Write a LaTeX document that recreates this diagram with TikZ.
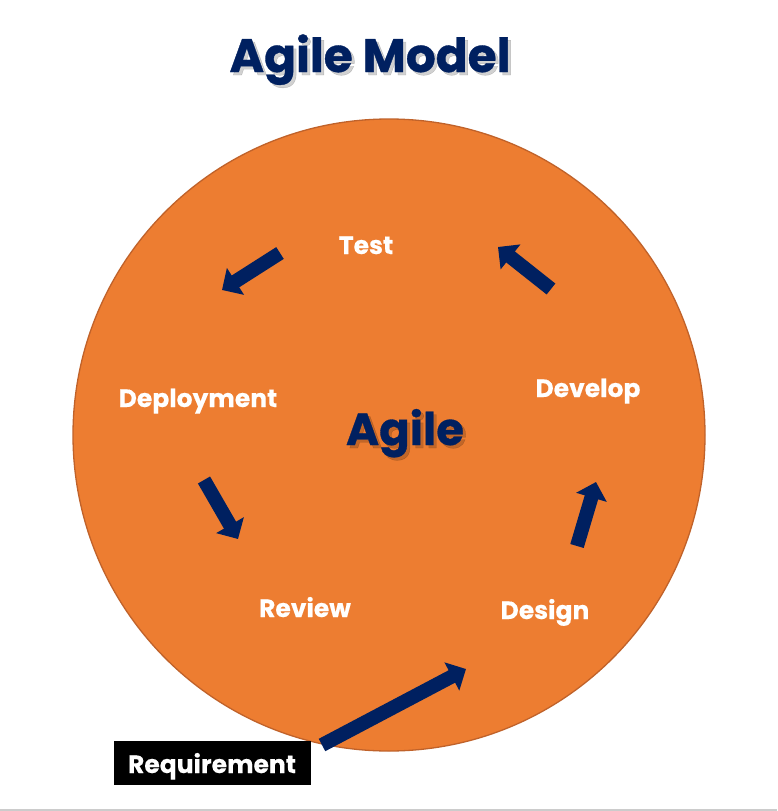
\documentclass[tikz,border=0pt]{standalone}
\usepackage{fontspec}
\setmainfont{Poppins}
\usetikzlibrary{arrows.meta}
\definecolor{navy}{HTML}{002060}
\definecolor{agorange}{HTML}{ED7D31}
\definecolor{agborder}{HTML}{C0622A}
\newcommand{\heavyfont}[1]{\bfseries\addfontfeature{FakeBold=0.7}\fontsize{#1}{#1}\selectfont}
\begin{document}
\begin{tikzpicture}[x=1pt,y=-1pt,
  lbl/.style={anchor=base,text=white,font=\bfseries\addfontfeature{FakeBold=0.4}\fontsize{25}{25}\selectfont,inner sep=0pt},
  bigtxt/.style={anchor=base,text=navy,inner sep=0pt},
  shadowtxt/.style={anchor=base,text=black,opacity=0.18,inner sep=0pt},
  blockarrow/.style={draw=navy,line width=14pt,-{Triangle[width=31pt,length=16pt]}}]
\useasboundingbox (0,0) rectangle (777,811);
\fill[white] (0,0) rectangle (777,811);
\draw[gray!40,line width=1.5pt] (0,810) -- (777,810);
% circle
\node[circle,fill=agorange,draw=agborder,line width=1.3pt,minimum size=632pt,inner sep=0pt] (circ) at (389,435) {};
% title
\node[shadowtxt,font=\heavyfont{47}] at (373,75) {Agile Model};
\node[bigtxt,font=\heavyfont{47}] (title) at (370,72) {Agile Model};
% center
\node[shadowtxt,font=\heavyfont{45}] at (408,448) {Agile};
\node[bigtxt,font=\heavyfont{45}] (agile) at (405,445) {Agile};
% labels
\node[lbl] (test) at (366,254) {Test};
\node[lbl] (develop) at (588,397) {Develop};
\node[lbl] (deploy) at (198,407) {Deployment};
\node[lbl] (review) at (305,617) {Review};
\node[lbl] (design) at (545,619) {Design};
\fill[black] (114,741) rectangle (311,785);
\node[lbl] (req) at (212,773) {Requirement};
% arrow end points
\coordinate (r1) at (322,745); \coordinate (r2) at (466,669);
\coordinate (d1) at (577,546); \coordinate (d2) at (596,482);
\coordinate (v1) at (551,289); \coordinate (v2) at (498,247);
\coordinate (t1) at (280,253); \coordinate (t2) at (222,290);
\coordinate (p1) at (204,480); \coordinate (p2) at (238,539);
\draw[blockarrow] (r1) -- (r2);
\draw[blockarrow] (d1) -- (d2);
\draw[blockarrow] (v1) -- (v2);
\draw[blockarrow] (t1) -- (t2);
\draw[blockarrow] (p1) -- (p2);
\end{tikzpicture}
\end{document}
